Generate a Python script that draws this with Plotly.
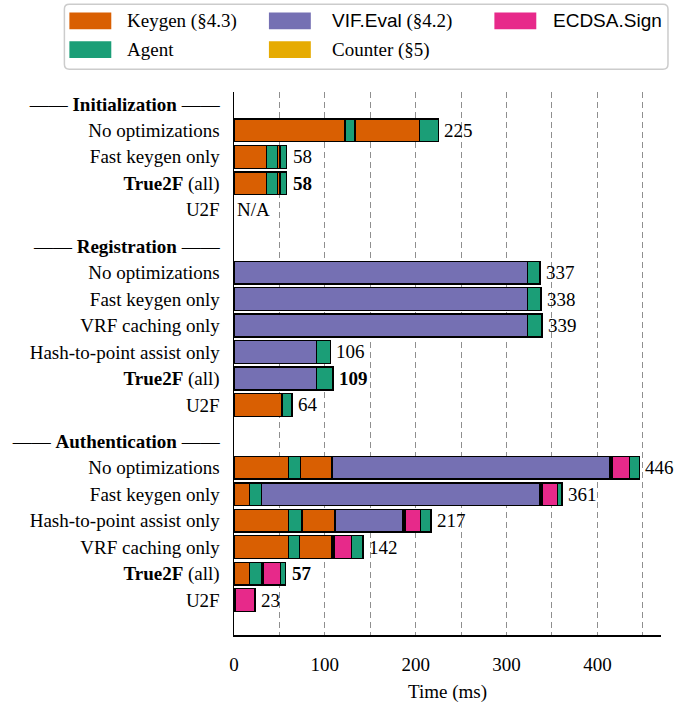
import plotly.graph_objects as go

# ---------------- data ----------------
COLORS = {
    "Keygen": "#d95f02",
    "Agent": "#1b9e77",
    "VIF.Eval": "#7570b3",
    "Counter": "#e6ab02",
    "ECDSA.Sign": "#e7298a",
}

group_names = ["Initialization", "Registration", "Authentication"]

init_labels = ["No optimizations", "Fast keygen only", "<b>True2F</b> (all)", "U2F"]
init_parts = [
    ["Keygen", "Agent", "Keygen", "Agent"],
    ["Keygen", "Agent", "Keygen", "Counter", "Agent"],
    ["Keygen", "Agent", "Keygen", "Counter", "Agent"],
    [],
]
init_ms = [
    [122, 11, 71, 21],
    [36, 12, 2, 1, 7],
    [36, 12, 2, 1, 7],
    [],
]

reg_labels = ["No optimizations", "Fast keygen only", "VRF caching only",
              "Hash-to-point assist only", "<b>True2F</b> (all)", "U2F"]
reg_parts = [
    ["VIF.Eval", "Agent"],
    ["VIF.Eval", "Agent"],
    ["VIF.Eval", "Agent"],
    ["VIF.Eval", "Agent"],
    ["VIF.Eval", "Agent"],
    ["Keygen", "Agent"],
]
reg_ms = [
    [323, 14],
    [323, 15],
    [323, 16],
    [91, 15],
    [91, 18],
    [53, 11],
]

auth_labels = ["No optimizations", "Fast keygen only", "Hash-to-point assist only",
               "VRF caching only", "<b>True2F</b> (all)", "U2F"]
auth_parts = [
    ["Keygen", "Agent", "Keygen", "VIF.Eval", "Counter", "ECDSA.Sign", "Agent"],
    ["Keygen", "Agent", "VIF.Eval", "Counter", "ECDSA.Sign", "Agent"],
    ["Keygen", "Agent", "Keygen", "VIF.Eval", "Counter", "ECDSA.Sign", "Agent"],
    ["Keygen", "Agent", "Keygen", "Counter", "ECDSA.Sign", "Agent"],
    ["Keygen", "Agent", "Counter", "ECDSA.Sign", "Agent"],
    ["Counter", "ECDSA.Sign"],
]
auth_ms = [
    [60, 13, 35, 306, 2, 19, 11],
    [17, 13, 307, 2, 17, 5],
    [60, 15, 36, 75, 2, 17, 12],
    [60, 12, 36, 2, 19, 13],
    [17, 13, 2, 19, 6],
    [1, 22],
]

legend_names = ["Keygen", "Agent", "VIF.Eval", "Counter", "ECDSA.Sign"]
legend_texts = [
    "Keygen (§4.3)",
    "Agent",
    "<span style=\"font-family:Liberation Sans, Arial\">VIF.Eval</span> (§4.2)",
    "Counter (§5)",
    "<span style=\"font-family:Liberation Sans, Arial\">ECDSA.Sign</span>",
]

x_ticks = [0, 100, 200, 300, 400]

# ---------------- layout helpers ----------------
SERIF = "Liberation Serif"
FS = 19
W, H = 674, 711
ML, MT = 233, 92
PW, PH = 428, 550
MR = W - ML - PW
MB = H - MT - PH

groups = [
    (group_names[0], init_labels, init_parts, init_ms),
    (group_names[1], reg_labels, reg_parts, reg_ms),
    (group_names[2], auth_labels, auth_parts, auth_ms),
]

GAP = 0.375
pos = 0.0
tickvals, ticktext = [], []
rows = []
for gi, (name, labels, parts, ms) in enumerate(groups):
    if gi > 0:
        pos += GAP
    tickvals.append(pos)
    ticktext.append(f"—— <b>{name}</b> ——")
    pos += 1
    for lab, p, m in zip(labels, parts, ms):
        tickvals.append(pos)
        ticktext.append(lab)
        rows.append((pos, p, m, lab))
        pos += 1

fig = go.Figure()

max_seg = max(len(r[1]) for r in rows)
ys = [r[0] for r in rows]
for k in range(max_seg):
    xs = [r[2][k] if k < len(r[2]) else None for r in rows]
    cols = [COLORS[r[1][k]] if k < len(r[1]) else "white" for r in rows]
    fig.add_trace(go.Bar(
        orientation="h", y=ys, x=xs, width=0.86,
        marker=dict(color=cols, line=dict(color="black", width=1.4)),
        showlegend=False, hoverinfo="skip",
    ))

annotations = []
for (yv, p, m, lab) in rows:
    if m:
        total = sum(m)
        txt = f"<b>{total}</b>" if "True2F" in lab else str(total)
        xv, sh = total, 4
    else:
        txt = "N/A"
        xv, sh = 0, 1
    annotations.append(dict(
        x=xv, y=yv, xref="x", yref="y", text=txt, showarrow=False,
        xanchor="left", yanchor="middle", xshift=sh,
        font=dict(family=SERIF, size=FS, color="black"),
    ))


def pxx(px):
    return (px - ML) / PW


def pxy(py):
    return (MT + PH - py) / PH


# legend box (rounded)
x0, x1 = pxx(63), pxx(668)
yt, yb = pxy(3), pxy(69)
rx, ry = 5 / PW, 5 / PH
path = (f"M {x0+rx},{yt} L {x1-rx},{yt} Q {x1},{yt} {x1},{yt-ry} "
        f"L {x1},{yb+ry} Q {x1},{yb} {x1-rx},{yb} L {x0+rx},{yb} "
        f"Q {x0},{yb} {x0},{yb+ry} L {x0},{yt-ry} Q {x0},{yt} {x0+rx},{yt} Z")
shapes = [dict(type="path", path=path, xref="paper", yref="paper",
               line=dict(color="#cccccc", width=1.5), fillcolor="white", layer="above")]

col_sw = [68, 68, 268, 268, 494]
col_tx = [124, 124, 329, 329, 551]
row_c = [20, 49, 20, 49, 20]
for name, txt, sx, tx, cy in zip(legend_names, legend_texts, col_sw, col_tx, row_c):
    shapes.append(dict(type="rect", xref="paper", yref="paper",
                       x0=pxx(sx), x1=pxx(sx + 42), y0=pxy(cy + 8.5), y1=pxy(cy - 8.5),
                       fillcolor=COLORS[name], line=dict(width=0), layer="above"))
    annotations.append(dict(
        x=pxx(tx), y=pxy(cy), xref="paper", yref="paper", text=txt, showarrow=False,
        xanchor="left", yanchor="middle",
        font=dict(family=SERIF, size=FS, color="black"),
    ))

fig.update_layout(
    width=W, height=H,
    margin=dict(l=ML, r=MR, t=MT, b=MB),
    barmode="stack",
    plot_bgcolor="white", paper_bgcolor="white",
    font=dict(family=SERIF, size=FS, color="black"),
    shapes=shapes,
    annotations=annotations,
    hovermode=False,
    xaxis=dict(
        range=[0, 470], tickvals=x_ticks, ticks="",
        showline=True, linecolor="black", linewidth=1.5,
        showgrid=True, gridcolor="#8f8f8f", gridwidth=1, griddash="6px,4px",
        minor=dict(tick0=0, dtick=50, showgrid=True, gridcolor="#8f8f8f",
                   gridwidth=1, griddash="6px,4px"),
        zeroline=False, ticklabelstandoff=12,
        title=dict(text="Time (ms)", standoff=10, font=dict(size=FS)),
        tickfont=dict(size=FS),
    ),
    yaxis=dict(
        range=[20.07, -0.45], tickvals=tickvals, ticktext=ticktext, ticks="",
        showline=True, linecolor="black", linewidth=1.5,
        showgrid=False, zeroline=False, ticklabelstandoff=9,
        tickfont=dict(size=FS),
    ),
)

fig.write_html(
    "out.html",
    config={"displayModeBar": False, "staticPlot": True},
    post_script="document.body.style.margin='0';document.body.style.overflow='hidden';",
)
